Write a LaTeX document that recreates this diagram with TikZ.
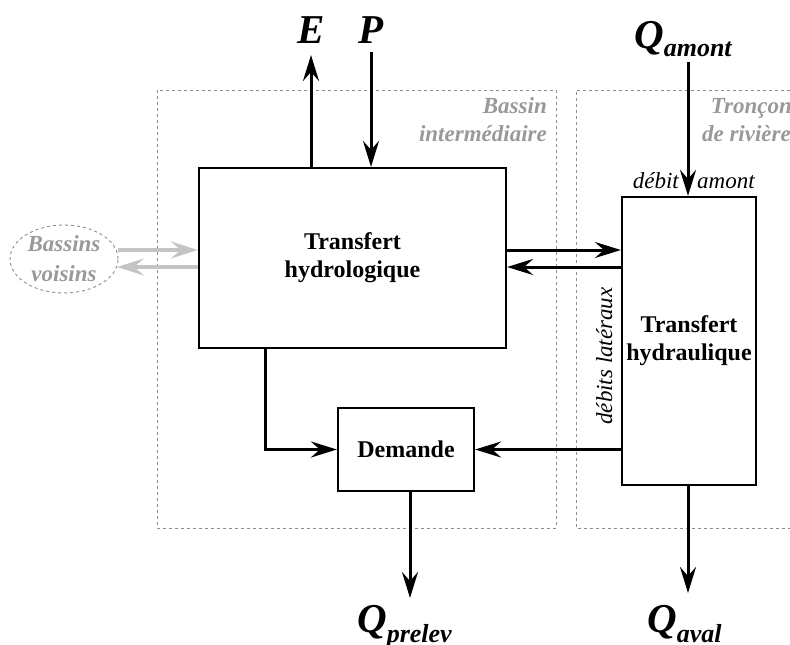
\documentclass[tikz,border=0pt]{standalone}
\usepackage{fontspec}
\setmainfont{Liberation Serif}
\usetikzlibrary{arrows.meta,shapes.geometric}
\definecolor{lightg}{HTML}{C4C4C4}
\definecolor{textg}{HTML}{999999}
\definecolor{dashg}{HTML}{8C8C8C}
\begin{document}
\begin{tikzpicture}[x=1pt,y=-1pt,
  box/.style={draw, line width=2.2pt, inner sep=0pt, align=center,
    font=\fontsize{24}{28}\selectfont\bfseries},
  arr/.style={line width=3pt, -{Stealth[length=26pt,width=16pt,inset=9pt]}},
  garr/.style={line width=4pt, draw=lightg, -{Stealth[length=27pt,width=17pt,inset=10pt]}},
  zone/.style={draw=dashg, line width=0.9pt, dash pattern=on 3pt off 3pt},
  zlabel/.style={inner sep=0pt, text=textg, font=\fontsize{23}{28}\selectfont\bfseries\itshape},
  big/.style={inner sep=0pt, font=\fontsize{41}{41}\selectfont\bfseries\itshape},
  lab/.style={inner sep=0pt, font=\fontsize{23}{26}\selectfont\itshape}]
\useasboundingbox (0,0) rectangle (790,645);

% zones
\draw[zone] (157,90) rectangle (556,528);
\draw[zone] (790,90) -- (576,90) -- (576,528) -- (790,528);
\node[zlabel, anchor=base east] (zb1) at (547,113) {Bassin};
\node[zlabel, anchor=base east] (zb2) at (547,141) {intermédiaire};
\node[zlabel, anchor=base east] (zt1) at (792,113) {Tronçon};
\node[zlabel, anchor=base east] (zt2) at (791,141) {de rivière};

% boxes
\node[box, minimum width=307pt, minimum height=180pt] (hydro) at (352.5,258) {Transfert\\hydrologique};
\node[box, minimum width=134pt, minimum height=288pt] (hydra) at (689,341) {Transfert\\hydraulique};
\node[box, minimum width=136pt, minimum height=83pt] (dem) at (406,449.5) {Demande};

% neighbours
\node[ellipse, draw=dashg, line width=0.9pt, dash pattern=on 3pt off 3pt,
  minimum width=108pt, minimum height=68pt, inner sep=0pt, align=center,
  text=textg, font=\fontsize{23}{30}\selectfont\bfseries\itshape] (voisins) at (64,259) {Bassins\\voisins};
\draw[garr] (voisins.east |- 0,250) -- (hydro.west |- 0,250);
\draw[garr] (hydro.west |- 0,267) -- (117,267);

% labels
\node[big, anchor=base] (E) at (311,43) {E};
\node[big, anchor=base] (P) at (371,43) {P};
\node[big, anchor=base west] (Qam) at (634,48) {Q\raisebox{-9pt}{\fontsize{26}{26}\selectfont amont}};
\node[big, anchor=base west] (Qpr) at (357,632) {Q\raisebox{-10pt}{\fontsize{26}{26}\selectfont prelev}};
\node[big, anchor=base west] (Qav) at (647,632) {Q\raisebox{-10pt}{\fontsize{26}{26}\selectfont aval}};

\coordinate (Etip) at (311,55);
\coordinate (Pstart) at (371,52);
\coordinate (Qamstart) at (688,62);
\coordinate (prtip) at (410,598);
\coordinate (avtip) at (688,593);
\coordinate (split) at (265,348);

% connectors
\draw[arr] (Etip |- hydro.north) -- (Etip);
\draw[arr] (Pstart) -- (Pstart |- hydro.north);
\draw[arr] (Qamstart) -- (Qamstart |- hydra.north);
\node[lab, anchor=base east] (deb) at (679,188) {débit};
\node[lab, anchor=base west] (amo) at (697,188) {amont};

\draw[arr] (hydro.east |- 0,250) -- (hydra.west |- 0,250);
\draw[arr] (hydra.west |- 0,267) -- (hydro.east |- 0,267);
\node[lab, rotate=90, anchor=base] (lat) at (612,356) {débits latéraux};

\draw[arr] (split |- hydro.south) |- (dem.west);
\draw[arr] (hydra.west |- dem.east) -- (dem.east);
\draw[arr] (prtip |- dem.south) -- (prtip);
\draw[arr] (avtip |- hydra.south) -- (avtip);
\end{tikzpicture}
\end{document}
